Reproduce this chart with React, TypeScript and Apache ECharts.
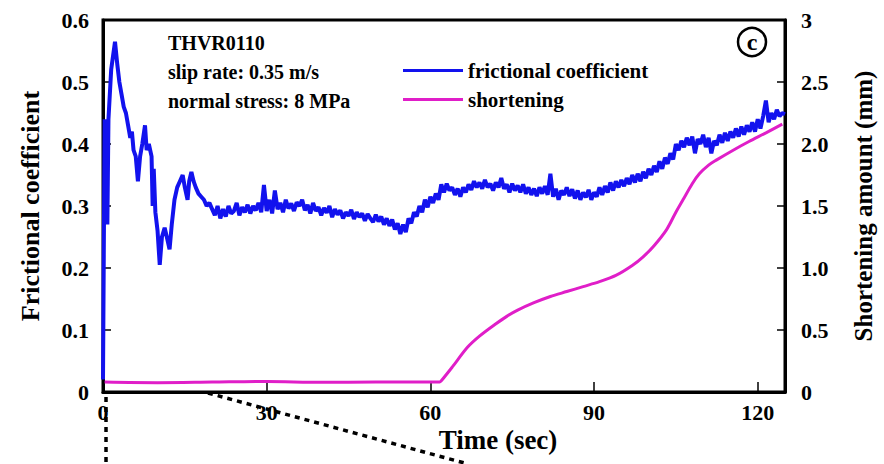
import React, { useEffect, useRef } from "react";
import * as echarts from "echarts";

const FONT = "'Liberation Serif', 'Times New Roman', serif";

const xTicks = [0, 30, 60, 90, 120];
const frictionName = "frictional coefficient";
const shorteningName = "shortening";
const annotation = ["THVR0110", "slip rate: 0.35 m/s", "normal stress: 8 MPa"];

// frictional coefficient: [time (s), mu]
const frictionEarly: [number, number][] = [
  [0, 0.02], [0.3, 0.44], [0.6, 0.42], [0.8, 0.27], [1.0, 0.44], [1.5, 0.52], [2.2, 0.565],
  [2.6, 0.53], [3.0, 0.5], [3.4, 0.48], [3.8, 0.46], [4.2, 0.45], [4.6, 0.43], [5.0, 0.41],
  [5.3, 0.42], [5.6, 0.39], [6.0, 0.38], [6.4, 0.34], [6.8, 0.38], [7.2, 0.4], [7.7, 0.43],
  [8.0, 0.39], [8.4, 0.4], [8.9, 0.38], [9.1, 0.3], [9.3, 0.36], [9.6, 0.29], [10.0, 0.26],
  [10.4, 0.205], [10.8, 0.25], [11.3, 0.265], [11.7, 0.25], [12.2, 0.23], [12.6, 0.27],
  [13.1, 0.31], [13.6, 0.33], [14.1, 0.34], [14.6, 0.35], [15.0, 0.33], [15.5, 0.31],
  [15.8, 0.34], [16.2, 0.355], [16.6, 0.34], [17.0, 0.33], [17.5, 0.32], [18.0, 0.315],
  [18.5, 0.31], [19.0, 0.3], [19.5, 0.305], [20.0, 0.295],
];
const frictionMiddle: [number, number][] = [
  [20.5, 0.285], [21, 0.3], [21.5, 0.28], [22, 0.295], [22.5, 0.283], [23, 0.3], [23.5, 0.288],
  [24, 0.292], [24.5, 0.305], [25, 0.285], [25.5, 0.298], [26, 0.29], [26.5, 0.302], [27, 0.288],
  [27.5, 0.3], [28, 0.293], [28.5, 0.305], [29, 0.29], [29.5, 0.334], [30, 0.292], [30.5, 0.31],
  [31, 0.288], [31.5, 0.325], [32, 0.295], [32.5, 0.305], [33, 0.29], [33.5, 0.31], [34, 0.296],
  [34.5, 0.304], [35, 0.292], [35.5, 0.306], [36, 0.3], [36.5, 0.31], [37, 0.293], [37.5, 0.302],
  [38, 0.288], [38.5, 0.305], [39, 0.292], [39.5, 0.298], [40, 0.285], [40.5, 0.297], [41, 0.289],
  [41.5, 0.3], [42, 0.282], [42.5, 0.295], [43, 0.286], [43.5, 0.293], [44, 0.28], [44.5, 0.29],
  [45, 0.284], [45.5, 0.294], [46, 0.279], [46.5, 0.29], [47, 0.282], [47.5, 0.288], [48, 0.276],
  [48.5, 0.287], [49, 0.28], [49.5, 0.274], [50, 0.286], [50.5, 0.275], [51, 0.283], [51.5, 0.27],
  [52, 0.28], [52.5, 0.268], [53, 0.278], [53.5, 0.262], [54, 0.272], [54.5, 0.255], [55, 0.27],
  [55.5, 0.258], [56, 0.28], [56.5, 0.272], [57, 0.29], [57.5, 0.283], [58, 0.3], [58.5, 0.29],
  [59, 0.31], [59.5, 0.298], [60, 0.315], [60.5, 0.305], [61, 0.32], [61.5, 0.31], [62, 0.335],
  [62.5, 0.322], [63, 0.336], [63.5, 0.325], [64, 0.33], [64.5, 0.318], [65, 0.328], [65.5, 0.315],
  [66, 0.33], [66.5, 0.322], [67, 0.335], [67.5, 0.326], [68, 0.34], [68.5, 0.33], [69, 0.338],
  [69.5, 0.328], [70, 0.342], [70.5, 0.33], [71, 0.336], [71.5, 0.325], [72, 0.338], [72.5, 0.33],
  [73, 0.345], [73.5, 0.328], [74, 0.335], [74.5, 0.322], [75, 0.336], [75.5, 0.325], [76, 0.333],
  [76.5, 0.322], [77, 0.335], [77.5, 0.32], [78, 0.33], [78.5, 0.318], [79, 0.328], [79.5, 0.316],
  [80, 0.33], [80.5, 0.32], [81, 0.332], [81.5, 0.318], [82, 0.352], [82.5, 0.315], [83, 0.328],
  [83.5, 0.31], [84, 0.325], [84.5, 0.318], [85, 0.33], [85.5, 0.316], [86, 0.327], [86.5, 0.312],
  [87, 0.325], [87.5, 0.31], [88, 0.322], [88.5, 0.314], [89, 0.326], [89.5, 0.31], [90, 0.322],
];
const frictionLate: [number, number][] = [
  [90.5, 0.315], [91, 0.33], [91.5, 0.318], [92, 0.332], [92.5, 0.322], [93, 0.338], [93.5, 0.325],
  [94, 0.34], [94.5, 0.33], [95, 0.342], [95.5, 0.332], [96, 0.345], [96.5, 0.335], [97, 0.35],
  [97.5, 0.338], [98, 0.352], [98.5, 0.34], [99, 0.355], [99.5, 0.345], [100, 0.36], [100.5, 0.35],
  [101, 0.365], [101.5, 0.355], [102, 0.372], [102.5, 0.36], [103, 0.378], [103.5, 0.368],
  [104, 0.385], [104.5, 0.375], [105, 0.4], [105.5, 0.39], [106, 0.405], [106.5, 0.395],
  [107, 0.41], [107.5, 0.398], [108, 0.412], [108.5, 0.385], [109, 0.408], [109.5, 0.4],
  [110, 0.415], [110.5, 0.395], [111, 0.41], [111.5, 0.385], [112, 0.405], [112.5, 0.398],
  [113, 0.415], [113.5, 0.402], [114, 0.418], [114.5, 0.405], [115, 0.42], [115.5, 0.41],
  [116, 0.425], [116.5, 0.412], [117, 0.428], [117.5, 0.415], [118, 0.43], [118.5, 0.42],
  [119, 0.435], [119.5, 0.42], [120, 0.44], [120.5, 0.425], [121, 0.445], [121.5, 0.47],
  [122, 0.435], [122.5, 0.45], [123, 0.44], [123.5, 0.455], [124, 0.445], [124.5, 0.45],
  [125, 0.448],
];

// shortening amount: [time (s), mm]
const shortening: [number, number][] = [
  [0.3, 0.08], [10, 0.075], [20, 0.08], [30, 0.085], [40, 0.078], [50, 0.08], [61.7, 0.08],
  [62, 0.09], [64, 0.2], [66.8, 0.36], [69, 0.45], [71.7, 0.54], [74, 0.61], [76, 0.66],
  [79, 0.72], [82, 0.77], [85, 0.81], [88, 0.85], [91, 0.89], [94, 0.94], [97, 1.02],
  [99, 1.09], [101, 1.18], [103.3, 1.31], [105, 1.45], [106.3, 1.55], [108, 1.68],
  [109.3, 1.76], [111, 1.83], [112.4, 1.87], [115.5, 1.95], [118.4, 2.02], [121.5, 2.09],
  [124.5, 2.16],
];

export default function App() {
  const ref = useRef<HTMLDivElement>(null);
  useEffect(() => {
    if (!ref.current) return;
    const chart = echarts.init(ref.current, null, { renderer: "svg" });
    const frictionData = [...frictionEarly, ...frictionMiddle, ...frictionLate];
    const labelStyle = { color: "#000", fontFamily: FONT, fontWeight: "bold" as const, fontSize: 22 };
    chart.setOption({
      animation: false,
      backgroundColor: "#fff",
      grid: { left: 103, right: 97, top: 20, bottom: 72, show: true, borderColor: "#000", borderWidth: 3, backgroundColor: "transparent" },
      legend: {
        orient: "vertical",
        left: 398,
        top: 55,
        itemWidth: 60,
        itemHeight: 3,
        itemGap: 8,
        icon: "rect",
        data: [frictionName, shorteningName],
        textStyle: { ...labelStyle, fontSize: 21 },
      },
      xAxis: {
        type: "value",
        min: 0,
        max: 125,
        interval: 30,
        axisLine: { lineStyle: { color: "#000", width: 3 } },
        axisTick: { inside: true, length: 10, lineStyle: { color: "#000", width: 1.5 } },
        axisLabel: {
          ...labelStyle,
          margin: 9,
          formatter: (v: number) => (xTicks.includes(v) ? String(v) : ""),
        },
        splitLine: { show: false },
      },
      yAxis: [
        {
          type: "value",
          min: 0,
          max: 0.6,
          interval: 0.1,
          name: "Frictional coefficient",
          nameLocation: "middle",
          nameGap: 60,
          nameTextStyle: { ...labelStyle, fontSize: 26 },
          axisLine: { show: true, lineStyle: { color: "#000", width: 3 } },
          axisTick: { inside: true, length: 8, lineStyle: { color: "#000", width: 1.5 } },
          axisLabel: { ...labelStyle, margin: 14, formatter: (v: number) => (v === 0 ? "0" : v.toFixed(1)) },
          splitLine: { show: false },
        },
        {
          type: "value",
          min: 0,
          max: 3,
          interval: 0.5,
          position: "right",
          name: "Shortening amount (mm)",
          nameLocation: "middle",
          nameGap: 66,
          nameRotate: 90,
          nameTextStyle: { ...labelStyle, fontSize: 25 },
          axisLine: { show: true, lineStyle: { color: "#000", width: 3 } },
          axisTick: { inside: true, length: 8, lineStyle: { color: "#000", width: 1.5 } },
          axisLabel: {
            ...labelStyle,
            margin: 16,
            formatter: (v: number) => (v === 0 || v === 3 ? String(v) : v.toFixed(1)),
          },
          splitLine: { show: false },
        },
      ],
      series: [
        {
          name: shorteningName,
          type: "line",
          yAxisIndex: 1,
          data: shortening,
          symbol: "none",
          smooth: 0.3,
          lineStyle: { color: "#e01ec8", width: 3 },
          itemStyle: { color: "#e01ec8" },
        },
        {
          name: frictionName,
          type: "line",
          yAxisIndex: 0,
          data: frictionData,
          symbol: "none",
          lineStyle: { color: "#1212ee", width: 4 },
          itemStyle: { color: "#1212ee" },
        },
      ],
      graphic: [
        {
          type: "group",
          left: 168,
          top: 33,
          children: annotation.map((t, i) => ({
            type: "text",
            x: 0,
            y: i * 29,
            style: { text: t, fill: "#000", font: `bold 20px ${FONT}` },
          })),
        },
        { type: "circle", shape: { cx: 752, cy: 42, r: 14 }, style: { fill: "none", stroke: "#000", lineWidth: 2.5 } },
        {
          type: "text",
          x: 752,
          y: 42,
          style: { text: "c", fill: "#000", font: `bold 24px ${FONT}`, align: "center", verticalAlign: "middle" },
        },
        {
          type: "text",
          x: 498,
          y: 440,
          style: { text: "Time (sec)", fill: "#000", font: `bold 27px ${FONT}`, align: "center", verticalAlign: "middle" },
        },
        {
          type: "line",
          shape: { x1: 208, y1: 393, x2: 468, y2: 464 },
          style: { stroke: "#000", lineWidth: 3.5, lineDash: [5, 5] },
        },
        {
          type: "line",
          shape: { x1: 106, y1: 397, x2: 106, y2: 464 },
          style: { stroke: "#000", lineWidth: 3.5, lineDash: [5, 5] },
        },
      ],
    });
    return () => chart.dispose();
  }, []);
  return <div ref={ref} style={{ width: 884, height: 464, position: "absolute", left: 0, top: 0 }} />;
}
